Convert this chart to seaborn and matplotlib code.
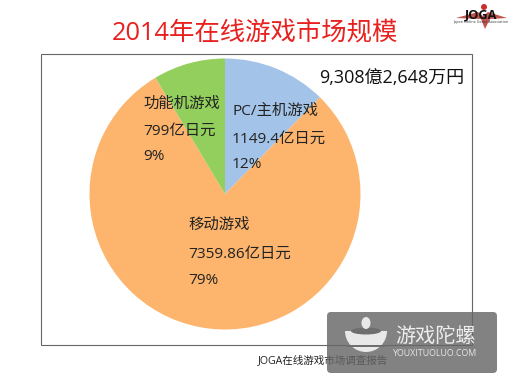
import matplotlib
matplotlib.use("Agg")
import matplotlib.pyplot as plt
from matplotlib.patches import Circle, Ellipse, FancyBboxPatch, Polygon, Rectangle, Wedge
import seaborn as sns

sns.set_theme(style="white")
plt.rcParams['font.family'] = ['Open Sans', 'Noto Sans CJK SC', 'DejaVu Sans']

categories = ["PC/主机游戏", "移动游戏", "功能机游戏"]
values = [1149.4, 7359.86, 799]
value_labels = ["1149.4亿日元", "7359.86亿日元", "799亿日元"]
percent_labels = ["12%", "79%", "9%"]
slice_colors = sns.color_palette(["#A3C4E8", "#FDB56E", "#92CF5C"])
title = "2014年在线游戏市场规模"
total_label = "9,308億2,648万円"
footer = "JOGA在线游戏市场调查报告"

W, H = 512, 384
fig = plt.figure(figsize=(W / 100, H / 100), dpi=100, facecolor="white")

# full-figure overlay working in reference pixels (y downwards)
ov = fig.add_axes([0, 0, 1, 1], zorder=3)
ov.set_xlim(0, W)
ov.set_ylim(H, 0)
ov.axis("off")
ov.patch.set_alpha(0)

ov.add_patch(Rectangle((41, 54), 431, 291, fill=False, ec="#666666", lw=0.8, zorder=1))

cx, cy, r = 225, 194, 135.5
ax = fig.add_axes([(cx - r) / W, 1 - (cy + r) / H, 2 * r / W, 2 * r / H], zorder=1)
ax.pie(values, colors=slice_colors, startangle=90, counterclock=False, radius=1,
       wedgeprops={"linewidth": 0})
ax.set_xlim(-1, 1)
ax.set_ylim(-1, 1)
ax.set_aspect("equal")
ax.axis("off")

ov.text(255, 34, title, color="#E8201E", fontsize=18.3, ha="center", va="center")
ov.text(391.5, 78, total_label, color="#111111", fontsize=13, ha="center", va="center")

label_pos = [(232, [111, 139, 164]), (188, [225, 254, 281]), (143, [104, 131, 156])]
for i, (x, ys) in enumerate(label_pos):
    for txt, y in zip([categories[i], value_labels[i], percent_labels[i]], ys):
        ov.text(x, y, txt, color="#222222", fontsize=11.1, ha="left", va="center")

ov.text(258, 361, footer, color="#222222", fontsize=7.6, ha="left", va="center", zorder=2)

# JOGA logo
ov.add_patch(Polygon([(456, 18), (478, 12), (483, 16), (488, 12), (507, 18), (490, 19),
                      (485, 29), (481, 19)], fc="#B5352E", ec="none", alpha=0.85, zorder=2))
ov.add_patch(Circle((484, 7), 3, fc="#C9302C", ec="none", zorder=2))
ov.text(481, 15, "JOGA", color="#111111", fontsize=9.2, fontweight="bold", ha="center", va="center", zorder=3)
ov.text(481, 22, "Japan Online Game Association", color="#333333", fontsize=2.7, ha="center", va="center", zorder=3)

# watermark
ov.add_patch(FancyBboxPatch((327, 312), 170, 61, boxstyle="round,pad=0,rounding_size=4",
                            fc="#666666", ec="none", alpha=0.82, zorder=5))
ov.add_patch(Wedge((366, 331), 21, 0, 180, fc="#E8E8E8", ec="none", zorder=6))
ov.add_patch(Ellipse((366, 331), 30, 7, fc="#6E6E6E", ec="none", zorder=7))
ov.add_patch(Ellipse((366, 323), 9, 12, fc="#E8E8E8", ec="none", zorder=8))
ov.add_patch(Rectangle((347, 345), 38, 1.5, fc="#6E6E6E", ec="none", zorder=7))
ov.text(435, 337, "游戏陀螺", color="#EDEDED", fontsize=14.5, ha="center", va="center", zorder=8)
ov.text(435, 354, "YOUXITUOLUO.COM", color="#E5E5E5", fontsize=6.4, ha="center", va="center", zorder=8)

fig.savefig("out.png", dpi=100, facecolor="white")
